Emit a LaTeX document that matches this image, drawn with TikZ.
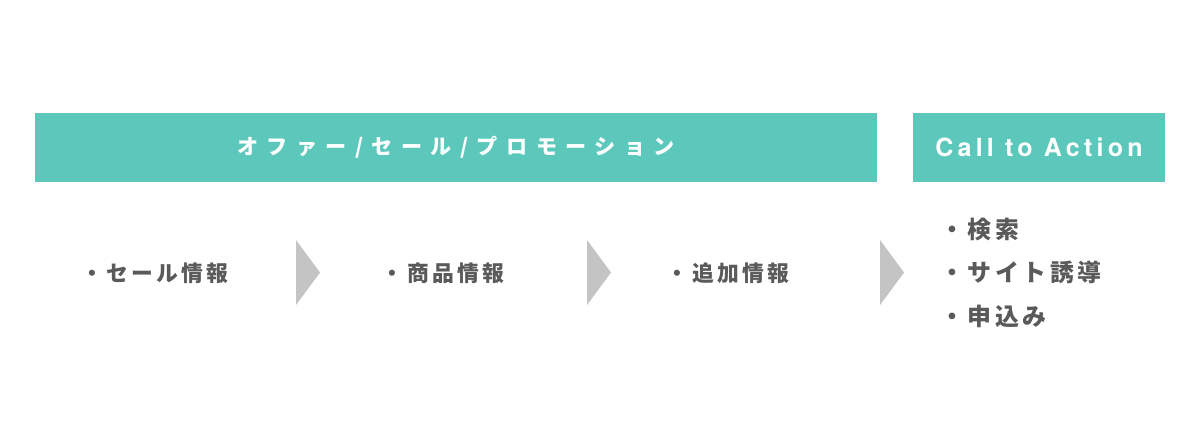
\documentclass[tikz,border=0pt]{standalone}
\usepackage{fontspec}
\usepackage{xcolor}
\usepackage{tikz}
\usetikzlibrary{positioning}
\newfontfamily\jp[LetterSpace=15]{Noto Sans CJK JP}
\newfontfamily\jphead[LetterSpace=40]{Noto Sans CJK JP}
\newfontfamily\cta[LetterSpace=17]{TeX Gyre Heros}
\definecolor{teal}{HTML}{5CC8BB}
\definecolor{chev}{HTML}{C4C4C4}
\definecolor{txt}{HTML}{5A5A5A}
\tikzset{bar/.style={fill=teal,inner sep=0,minimum height=69*0.025cm,text=white,font=\jphead\bfseries\fontsize{15}{17}\selectfont},
         item/.style={text=txt,inner sep=0,font=\jp\bfseries\fontsize{15.5}{17}\selectfont},
         cta item/.style={item,anchor=west,font=\jp\bfseries\fontsize{17}{19}\selectfont}}

\begin{document}
\begin{tikzpicture}[x=0.025cm,y=-0.025cm]
    \useasboundingbox[fill=white] (0,0) rectangle (1200,440);
    \node[bar,minimum width=842*0.025cm] (offer) at (456,147.5) {オファー/セール/プロモーション};
    \node[bar,minimum width=252*0.025cm,font=\cta\bfseries\fontsize{17.8}{19}\selectfont] (cta) at (1039,147.5) {Call to Action};

    \node[item] (sale) at (155,273) {・セール情報};
    \node[item] (prod) at (443,273) {・商品情報};
    \node[item] (add) at (728,273) {・追加情報};
    \node[cta item] (search) at (940,229) {・検索};
    \node[cta item] (site) at (940,272) {・サイト誘導};
    \node[cta item] (apply) at (940,316) {・申込み};

    \foreach \x in {296,587,880}
        \fill[chev] (\x,240) -- (\x+24,272.5) -- (\x,305) -- cycle;
\end{tikzpicture}
\end{document}
